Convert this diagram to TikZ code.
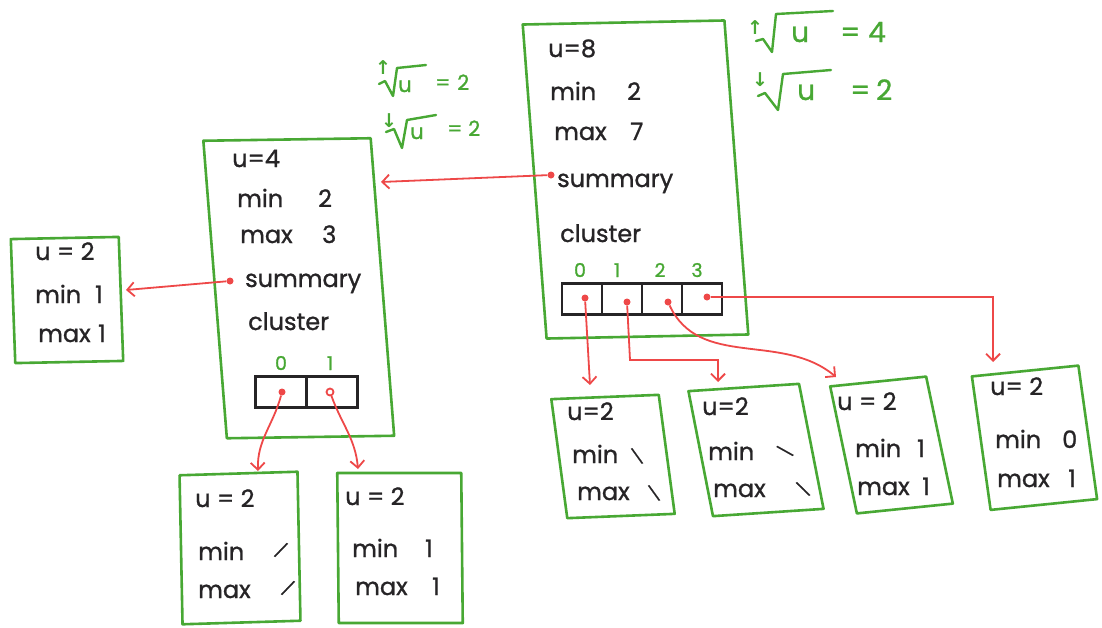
\documentclass[tikz,border=0pt]{standalone}
\usepackage{fontspec}
\newfontfamily\hand{Poppins}[FakeBold=1]
\newfontfamily\symb{DejaVu Sans}
\usetikzlibrary{arrows.meta}
\definecolor{pen}{RGB}{72,168,52}
\definecolor{ink}{RGB}{38,36,38}
\definecolor{ptrred}{RGB}{238,72,72}
\tikzset{
  frame/.style={draw=pen, line width=2.6pt, inner sep=0pt, line join=round},
  txt/.style={anchor=base west, inner sep=0pt, text=ink, font=\hand\fontsize{24}{28}\selectfont},
  nilmark/.style={inner sep=0pt, text=ink, font=\hand\fontsize{16}{16}\selectfont},
  idx/.style={anchor=base, inner sep=0pt, text=pen, font=\hand\fontsize{19}{20}\selectfont},
  note/.style={anchor=base west, inner sep=0pt, text=pen, font=\hand\fontsize{28}{30}\selectfont},
  smallnote/.style={note, font=\hand\fontsize{21}{24}\selectfont},
  rootidx/.style={inner sep=0pt, text=pen, font=\symb\bfseries\fontsize{19}{19}\selectfont},
  radical/.style={draw=pen, line width=2.4pt, line join=round, line cap=round},
  cell/.style={draw=ink, line width=2.4pt, inner sep=0pt, minimum height=31pt},
  ptr/.style={draw=ptrred, line width=1.8pt, -{Straight Barb[length=7pt,width=14pt]}},
  dot/.style={circle, fill=ptrred, inner sep=0pt, minimum size=7pt},
  ring/.style={circle, draw=ptrred, fill=white, line width=1.8pt, inner sep=0pt, minimum size=7pt},
}
\begin{document}
\begin{tikzpicture}[x=1pt,y=-1pt]
\fill[white] (0,0) rectangle (1102,627);
\useasboundingbox (0,0) rectangle (1102,627);

% ---- root structure, u = 8
\node[frame, minimum width=202pt, minimum height=314pt, xslant=-0.076, yslant=0.02] (root) at (635.5,179.5) {};
\node[txt] (ru)    at (548,57)  {u=8};
\node[txt] (rmin)  at (550,100) {min};
\node[txt] (rminv) at (627,100) {2};
\node[txt] (rmax)  at (554,140) {max};
\node[txt] (rmaxv) at (630,140) {7};
\node[txt] (rsum)  at (557,187) {summary};
\node[txt] (rclu)  at (560,242) {cluster};
\node[cell, minimum width=40pt] (rc0) at (582,299) {};
\node[cell, minimum width=40pt] (rc1) at (622,299) {};
\node[cell, minimum width=40pt] (rc2) at (662,299) {};
\node[cell, minimum width=40pt] (rc3) at (702,299) {};
\node[idx] (rl0) at (580,277) {0};
\node[idx] (rl1) at (617,277) {1};
\node[idx] (rl2) at (660,277) {2};
\node[idx] (rl3) at (697,277) {3};
\node[dot] (rd0) at (585,298) {};
\node[dot] (rd1) at (627,302) {};
\node[dot] (rd2) at (668,302) {};
\node[dot] (rd3) at (707,297) {};
\node[dot] (rsd) at (551,175) {};

% ---- upper and lower square roots of u = 8
\node[rootidx] (ua8) at (755,28) {↑};
\draw[radical] (756,41) -- (763,39) -- (772,52) -- (776,14) -- (833,11);
\node[note] (uu8) at (791,42) {u};
\node[note] (ueq8) at (840,42) {=};
\node[note] (uv8) at (868,42) {4};

\node[rootidx] (la8) at (760,80) {↓};
\draw[radical] (758,96) -- (765,93) -- (778,110) -- (783,74) -- (831,70);
\node[note] (lu8) at (797,100) {u};
\node[note] (leq8) at (850,100) {=};
\node[note] (lv8) at (876,100) {2};

% ---- upper and lower square roots of u = 4
\node[rootidx] (ua4) at (383,68) {↑};
\draw[radical] (379,84) -- (385,81) -- (393,96) -- (397,68) -- (426,65);
\node[smallnote] (uu4) at (398,92) {u};
\node[smallnote] (ueq4) at (435,90) {=};
\node[smallnote] (uv4) at (457,90) {2};

\node[rootidx] (la4) at (389,121) {↓};
\draw[radical] (386,132) -- (394,129) -- (402,148) -- (407,120) -- (436,115);
\node[smallnote] (lu4) at (410,139) {u};
\node[smallnote] (leq4) at (447,136) {=};
\node[smallnote] (lv4) at (468,136) {2};

% ---- summary of root, u = 4
\node[frame, minimum width=167.5pt, minimum height=297.5pt, xslant=-0.079, yslant=0.015] (mid) at (298.75,288.25) {};
\node[txt] (mu)    at (232,167) {u=4};
\node[txt] (mmin)  at (237,207) {min};
\node[txt] (mminv) at (318,207) {2};
\node[txt] (mmax)  at (240,243) {max};
\node[txt] (mmaxv) at (322,243) {3};
\node[txt] (msum)  at (245,287) {summary};
\node[txt] (mclu)  at (248,330) {cluster};
\node[cell, minimum width=51pt] (mc0) at (281,392) {};
\node[cell, minimum width=51pt] (mc1) at (332,392) {};
\node[idx] (ml0) at (281,370) {0};
\node[idx] (ml1) at (330,370) {1};
\node[dot]  (md0) at (282,392) {};
\node[ring] (md1) at (330,392) {};
\node[dot]  (msd) at (230,281) {};

% ---- summary of the u = 4 structure
\node[frame, minimum width=108pt, minimum height=124pt, xslant=-0.036, yslant=0.02] (sbox) at (67,300) {};
\node[txt] (su)    at (35,260) {u = 2};
\node[txt] (smin)  at (35,303) {min};
\node[txt] (sminv) at (95,303) {1};
\node[txt] (smax)  at (38,342) {max};
\node[txt] (smaxv) at (98,342) {1};

% ---- clusters of the u = 4 structure
\node[frame, minimum width=118pt, minimum height=149pt, xslant=-0.02, yslant=0.03] (ca) at (240,548) {};
\node[txt] (cau)    at (195,507) {u = 2};
\node[txt] (camin)  at (198,560) {min};
\node[nilmark, rotate=-30] (caminv) at (281,550) {/};
\node[txt] (camax)  at (198,598) {max};
\node[nilmark, rotate=-30] (camaxv) at (288,588) {/};

\node[frame, minimum width=124pt, minimum height=150pt, xslant=-0.01] (cb) at (400,548) {};
\node[txt] (cbu)    at (345,505) {u = 2};
\node[txt] (cbmin)  at (352,557) {min};
\node[txt] (cbminv) at (425,557) {1};
\node[txt] (cbmax)  at (355,595) {max};
\node[txt] (cbmaxv) at (432,595) {1};

% ---- clusters of the root
\node[frame, minimum width=108pt, minimum height=119pt, xslant=-0.134, yslant=0.04] (cc) at (613,456.5) {};
\node[txt] (ccu)    at (567,420) {u=2};
\node[txt] (ccmin)  at (572,463) {min};
\node[nilmark, rotate=20] (ccminv) at (637,456) {\textbackslash};
\node[txt] (ccmax)  at (577,500) {max};
\node[nilmark, rotate=20] (ccmaxv) at (654,493) {\textbackslash};

\node[frame, minimum width=112pt, minimum height=125pt, xslant=-0.196, yslant=0.065] (cd) at (756,450) {};
\node[txt] (cdu)    at (702,415) {u=2};
\node[txt] (cdmin)  at (708,460) {min};
\node[nilmark, rotate=45] (cdminv) at (785,451) {\textbackslash};
\node[txt] (cdmax)  at (713,497) {max};
\node[nilmark, rotate=30] (cdmaxv) at (803,489) {\textbackslash};

\node[frame, minimum width=98pt, minimum height=127pt, xslant=-0.21, yslant=0.1] (ce) at (891.5,445) {};
\node[txt] (ceu)    at (837,410) {u = 2};
\node[txt] (cemin)  at (855,457) {min};
\node[txt] (ceminv) at (917,457) {1};
\node[txt] (cemax)  at (857,495) {max};
\node[txt] (cemaxv) at (922,495) {1};

\node[frame, minimum width=108pt, minimum height=133.5pt, xslant=-0.14, yslant=0.1] (cf) at (1034.5,437.75) {};
\node[txt] (cfu)    at (990,395) {u= 2};
\node[txt] (cfmin)  at (995,448) {min};
\node[txt] (cfminv) at (1062,448) {0};
\node[txt] (cfmax)  at (997,487) {max};
\node[txt] (cfmaxv) at (1068,487) {1};

% ---- pointer targets on the box outlines
\coordinate (midin)  at (381,182);
\coordinate (sboxin) at (126,290);
\coordinate (cain)   at (258,471);
\coordinate (cbin)   at (358,469);
\coordinate (ccin)   at (590,385);
\coordinate (cdin)   at (718,382);
\coordinate (cein)   at (836,377);
\coordinate (cfin)   at (993,362);

% ---- pointers
\draw[ptr] (rsd) -- (midin);
\draw[ptr] (msd) -- (sboxin);
\draw[ptr] (md0) to[out=-105,in=92] (cain);
\draw[ptr] (md1) to[out=-70,in=95] (cbin);
\draw[ptr] (rd0) -- (ccin);
\draw[ptr] (rd1) -- ++(3,58) -| (cdin);
\draw[ptr] (rd2) to[out=-65,in=140] (cein);
\draw[ptr] (rd3) -| (cfin);
\end{tikzpicture}
\end{document}
